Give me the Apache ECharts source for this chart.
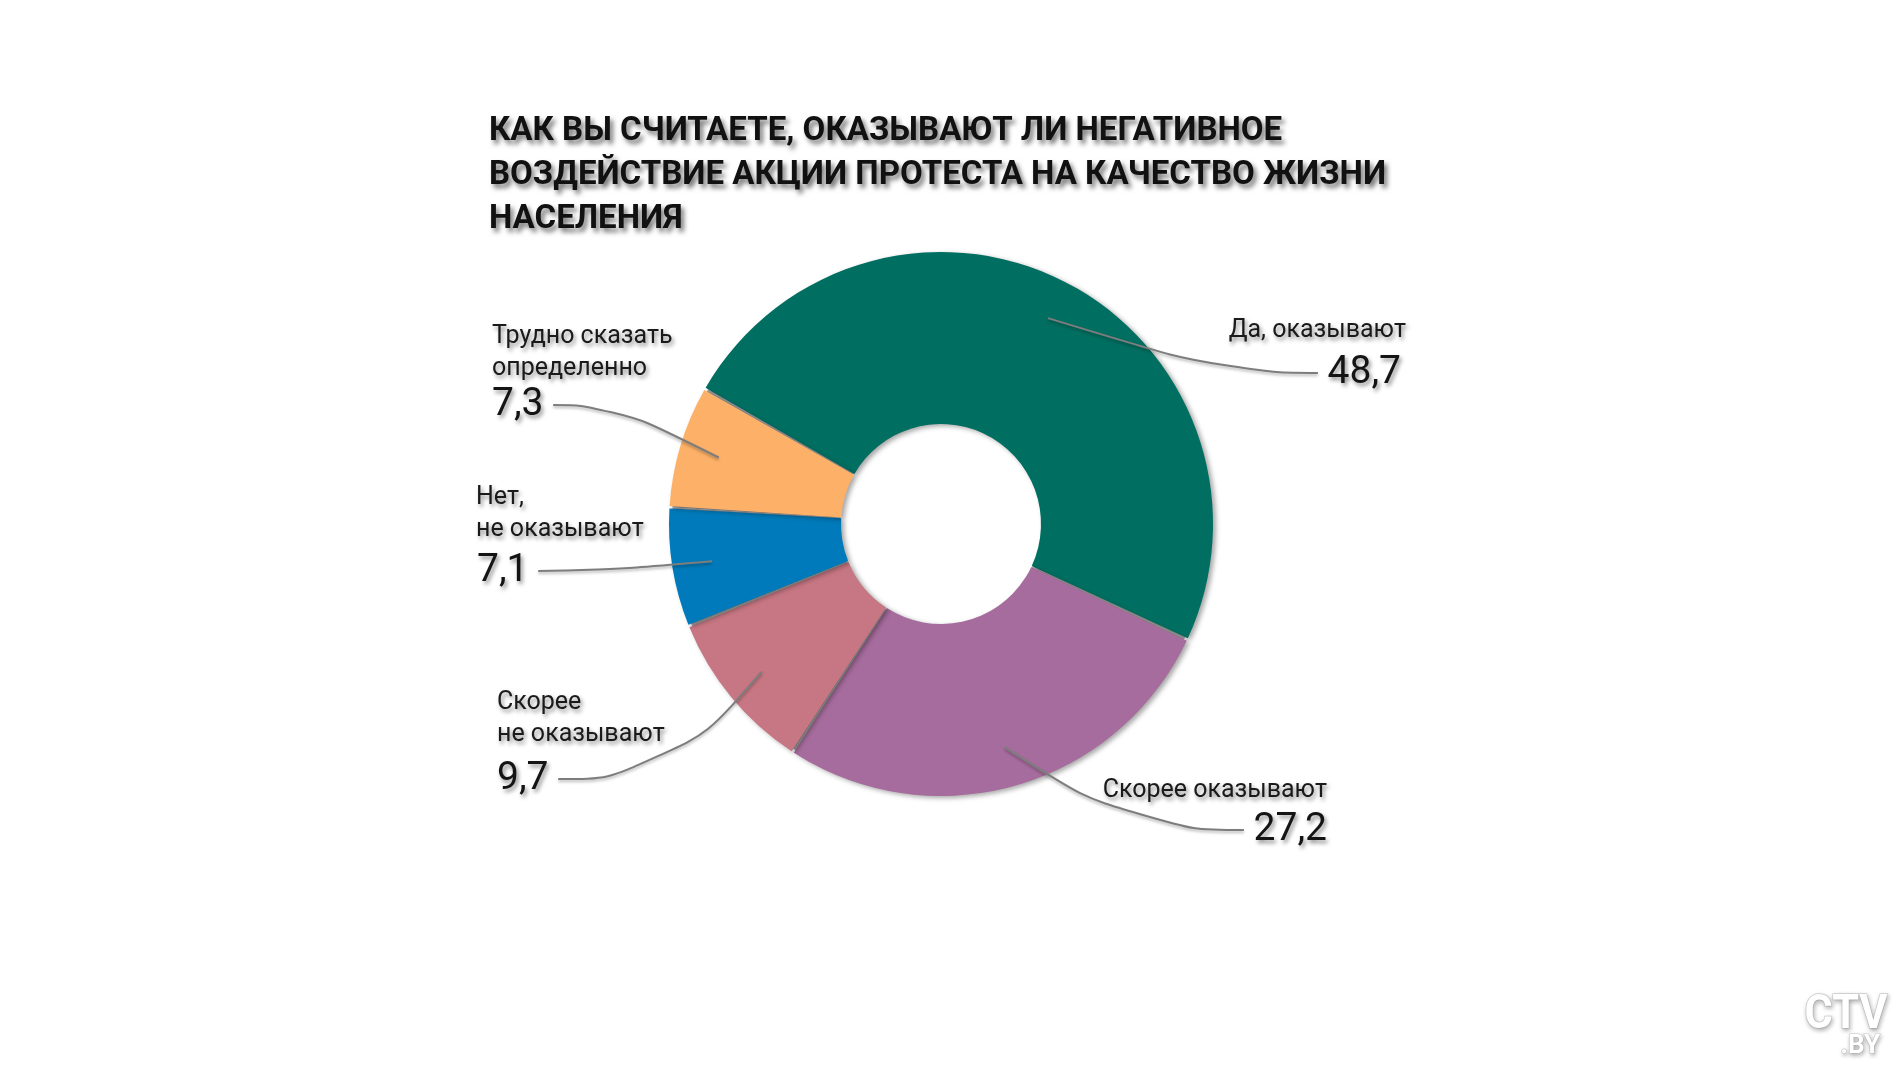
<!DOCTYPE html>
<html>
<head>
<meta charset="utf-8">
<script src="https://cdn.jsdelivr.net/npm/echarts@6/dist/echarts.min.js"></script>
<style>
html, body { margin: 0; padding: 0; background: #ffffff; }
#main { width: 1901px; height: 1069px; }
</style>
</head>
<body>
<div id="main"></div>
<script>
// ---------- data ----------
const TITLE_LINES = [
  'КАК ВЫ СЧИТАЕТЕ, ОКАЗЫВАЮТ ЛИ НЕГАТИВНОЕ',
  'ВОЗДЕЙСТВИЕ АКЦИИ ПРОТЕСТА НА КАЧЕСТВО ЖИЗНИ',
  'НАСЕЛЕНИЯ'
];
const CATEGORIES = [
  'Да, оказывают',
  'Скорее оказывают',
  'Скорее\nне оказывают',
  'Нет,\nне оказывают',
  'Трудно сказать\nопределенно'
];
const VALUES = [48.7, 27.2, 9.7, 7.1, 7.3];
const COLORS = ['#006e60', '#a66c9d', '#c77783', '#007aba', '#fdb168'];

// ---------- layout / style ----------
const CENTER = [941, 524];
const RADIUS = [100, 272];
const SEPARATOR_RADIUS = [101, 269];
const ANCHOR_RADIUS = [100, 232];
const START_ANGLE = 150.2;
const NAME_POS = [
  { x: 1406, y: 331, align: 'right' },
  { x: 1327, y: 791, align: 'right' },
  { x: 497, y: 719, align: 'left' },
  { x: 476, y: 514, align: 'left' },
  { x: 492, y: 353, align: 'left' }
];
const VALUE_POS = [
  { x: 1401, y: 373, align: 'right' },
  { x: 1327, y: 830, align: 'right' },
  { x: 497, y: 779, align: 'left' },
  { x: 477, y: 571, align: 'left' },
  { x: 492, y: 405, align: 'left' }
];
const LINE_LEN2 = [90, 110, 110, 60, 60];
const TEXT_SHADOW = {
  textShadowColor: 'rgba(0,0,0,0.45)',
  textShadowBlur: 4,
  textShadowOffsetX: 2,
  textShadowOffsetY: 3
};

// measure title to match width of the original's condensed type
const mctx = document.createElement('canvas').getContext('2d');
const TITLE_FONT = 'bold 33px Roboto';
mctx.font = TITLE_FONT;
const titleScale = 897 / mctx.measureText(TITLE_LINES[1]).width;

const chart = echarts.init(document.getElementById('main'), null, { renderer: 'canvas' });

const baseData = CATEGORIES.map((name, i) => ({ name: name, value: VALUES[i] }));

chart.setOption({
  animation: false,
  backgroundColor: '#ffffff',
  graphic: [
    {
      type: 'text',
      x: 489,
      y: 110,
      scaleX: titleScale,
      z: 10,
      style: {
        text: TITLE_LINES.join('\n'),
        font: TITLE_FONT,
        fill: '#111111',
        lineHeight: 44,
        textAlign: 'left',
        verticalAlign: 'top',
        textShadowColor: 'rgba(0,0,0,0.55)',
        textShadowBlur: 5,
        textShadowOffsetX: 3,
        textShadowOffsetY: 4
      }
    },
    {
      type: 'text',
      x: 1846,
      y: 1016,
      scaleX: 0.9,
      style: {
        text: 'CTV',
        font: 'bold 48px Roboto',
        fill: '#ffffff',
        stroke: '#cfcfcf',
        lineWidth: 1.5,
        textAlign: 'center',
        verticalAlign: 'middle',
        textShadowColor: 'rgba(0,0,0,0.25)',
        textShadowBlur: 4,
        textShadowOffsetX: 1,
        textShadowOffsetY: 2
      }
    },
    {
      type: 'text',
      x: 1880,
      y: 1046,
      style: {
        text: '.BY',
        font: 'bold 26px Roboto',
        fill: '#ffffff',
        stroke: '#cfcfcf',
        lineWidth: 1.2,
        textAlign: 'right',
        verticalAlign: 'middle',
        textShadowColor: 'rgba(0,0,0,0.25)',
        textShadowBlur: 4,
        textShadowOffsetX: 1,
        textShadowOffsetY: 2
      }
    }
  ],
  series: [
    // grey layer that shows through the gaps between slices (separator lines)
    {
      type: 'pie',
      z: 1,
      center: CENTER,
      radius: SEPARATOR_RADIUS,
      startAngle: START_ANGLE,
      clockwise: true,
      silent: true,
      emphasis: { disabled: true },
      itemStyle: { color: '#a3a3a3', borderWidth: 0 },
      label: { show: false },
      labelLine: { show: false },
      data: baseData
    },
    // visible donut
    {
      type: 'pie',
      z: 2,
      center: CENTER,
      radius: RADIUS,
      startAngle: START_ANGLE,
      clockwise: true,
      padAngle: 0.55,
      silent: true,
      emphasis: { disabled: true },
      itemStyle: {
        borderWidth: 0,
        shadowBlur: 5,
        shadowColor: 'rgba(0,0,0,0.35)',
        shadowOffsetX: 3,
        shadowOffsetY: 2
      },
      label: { show: false },
      labelLine: { show: false },
      data: CATEGORIES.map((name, i) => ({
        name: name,
        value: VALUES[i],
        itemStyle: { color: COLORS[i] }
      }))
    },
    // value labels with leader lines (anchored inside the ring)
    {
      type: 'pie',
      z: 3,
      center: CENTER,
      radius: ANCHOR_RADIUS,
      startAngle: START_ANGLE,
      clockwise: true,
      silent: true,
      avoidLabelOverlap: false,
      emphasis: { disabled: true },
      itemStyle: { color: 'rgba(0,0,0,0)', borderWidth: 0 },
      label: Object.assign({
        show: true,
        position: 'outside',
        formatter: function (p) {
          const txt = String(p.value).replace('.', ',');
          return VALUE_POS[p.dataIndex].align === 'left'
            ? '{v|' + txt + '}{g| }'
            : '{g| }{v|' + txt + '}';
        },
        fontFamily: 'Roboto',
        fontSize: 39,
        color: '#141414',
        rich: {
          v: { fontFamily: 'Roboto', fontSize: 39, color: '#141414' },
          g: { width: 14, fontSize: 39 }
        }
      }, TEXT_SHADOW),
      labelLine: {
        show: true,
        smooth: 0.55,
        length: 10,
        minTurnAngle: 30,
        lineStyle: {
          color: '#7d7d7d',
          width: 2,
          shadowColor: 'rgba(0,0,0,0.3)',
          shadowBlur: 3,
          shadowOffsetY: 2
        }
      },
      labelLayout: function (p) {
        const pos = VALUE_POS[p.dataIndex];
        return { x: pos.x, y: pos.y, align: pos.align, verticalAlign: 'middle' };
      },
      data: CATEGORIES.map((name, i) => ({
        name: name,
        value: VALUES[i],
        labelLine: { length2: LINE_LEN2[i] }
      }))
    },
    // category name labels
    {
      type: 'pie',
      z: 3,
      center: CENTER,
      radius: RADIUS,
      startAngle: START_ANGLE,
      clockwise: true,
      silent: true,
      avoidLabelOverlap: false,
      emphasis: { disabled: true },
      itemStyle: { color: 'rgba(0,0,0,0)', borderWidth: 0 },
      label: Object.assign({
        show: true,
        position: 'outside',
        formatter: '{b}',
        fontFamily: 'Roboto',
        fontSize: 25,
        lineHeight: 32,
        color: '#1a1a1a'
      }, TEXT_SHADOW),
      labelLine: { show: false },
      labelLayout: function (p) {
        const pos = NAME_POS[p.dataIndex];
        return { x: pos.x, y: pos.y, align: pos.align, verticalAlign: 'middle' };
      },
      data: baseData
    }
  ]
});
</script>
</body>
</html>
